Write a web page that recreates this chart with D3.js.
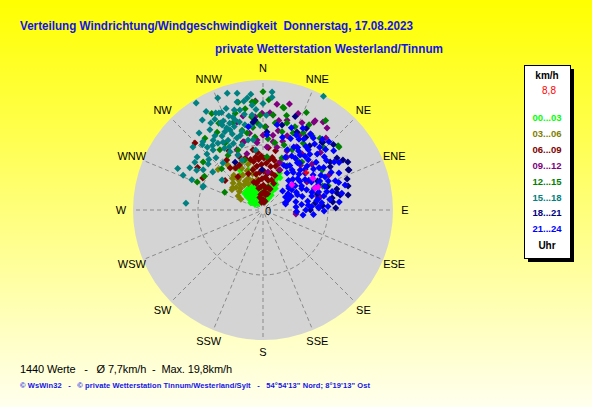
<body style="margin:0">
<script src="https://d3js.org/d3.v7.min.js"></script>
<script>
// Windrose scatter: each point = one minute value [direction deg, speed km/h]
var svgWidth = 592;
var svgHeight = 407;
var cx = 263, cy = 210, R = 130;

var dirLabels = ['N','NNE','NE','ENE','E','ESE','SE','SSE','S','SSW','SW','WSW','W','WNW','NW','NNW'];
var hourGroups = ['00...03','03...06','06...09','09...12','12...15','15...18','18...21','21...24'];
var groupColors = ['#00ff00','#808000','#800000','#800080','#008000','#008080','#000080','#0000ff'];
var speedMax = 20;

// 00-03
var g0 = [[20,1.5],[21,2.6],[22,3.6],[23,4.6],[24,5.4],[25,2],[26,3.2],[27,4.4],[28,5.6],[24,6.2],[29,2.6],[30,3.8],[18,4],[18,2],[305,1.5],[308,2.5],[310,3.2],[313,1.8],[315,2.8],[318,3.5],[320,1.2],[322,2.4],[325,3.2],[328,1.6],[330,2.6],[333,3.4],[336,2],[339,2.8],[342,1.4],[345,3],[348,2.2],[352,3.4],[356,2],[0,3],[5,2.4],[10,3.6],[14,2.8],[340,6.6],[330,7],[300,2.2],[312,3.8],[320,3.9],[327,4],[335,3.9],[343,3.6]];
// 03-06
var g1 = [[308,4.6],[310,5.4],[312,6.2],[314,4.8],[316,6.8],[318,5.4],[320,7],[321,6],[323,4.8],[325,6.4],[326,7.8],[328,5.2],[330,6.2],[331,4.6],[333,7.2],[335,5.4],[336,8],[338,6.5],[340,4.8],[342,7.4],[344,5.8],[346,7.8],[348,6.6],[350,4.8],[303,5.7],[299.5,4.4],[317,6.7],[325,6.2],[306,5.8],[322,8.8],[312,9.3],[296,3.8]];
// 06-09
var g2 = [[346,2],[346,4.2],[346,6.4],[346,8],[349,1.2],[349,3.4],[349,5.6],[349,7.6],[352,2.4],[352,4.6],[352,6.8],[352,8.2],[355,1.4],[355,3.6],[355,5.8],[355,7.8],[358,2.6],[358,4.8],[358,7],[358,8.3],[1,1.6],[1,3.8],[1,6],[1,8],[4,2.8],[4,5],[4,7.2],[7,1.2],[7,3.4],[7,5.6],[7,7.8],[10,2.4],[10,4.6],[10,6.8],[10,8.2],[13,1.4],[13,3.6],[13,5.8],[13,7.8],[16,2.6],[16,4.8],[16,7],[19,3.4],[19,5.6],[19,7.6],[22,4.4],[22,6.6],[308,7.4],[314.6,14.7],[322,8.2],[327,7.7],[323,6.4],[341,8.4],[324,9.5],[343.6,10.9],[332,7.8],[350.5,9.4],[354.6,8.9],[330,10.5],[5,9.6],[12,9.3],[338,6],[342,4.5],[336,9],[298,10.5],[303,12]];
// 09-12
var g3 = [[7.5,16.4],[4.1,15],[359.4,14.9],[15,14.3],[24.1,14.7],[30.1,15.6],[41.2,14.7],[10.8,12.4],[8.4,10.6],[3.6,9.7],[354.9,10.4],[335.6,9.3],[336.6,10.1],[23,6.7],[24.4,8.9],[96.9,5.1],[77.2,9],[34.3,16.4],[30.3,15.9],[85,9],[76.7,8.7],[93.5,5.1],[6,14.7],[7.6,11.6],[12.5,9.9],[19.5,7.8],[7.5,5.9],[57.5,8],[343.5,14.1],[344.4,10.9],[355.1,10.8],[355.1,14.4],[344,9],[18,12],[28,11],[35,10.5],[45,12.5],[50,6],[62,11.5],[2,12.8],[356,16.8],[14,16.8],[10,14],[20,15.8],[26,12.8],[38,16],[0,11.5],[350,12],[16,11],[32,13.8],[40,9],[47,10.3],[22,9.8],[348,14.8]];
// 12-15
var g4 = [[332,16.8],[333,15],[355.8,16.7],[11.6,16],[6,14.7],[1.4,12.8],[33.5,13.7],[49.5,15.2],[25.8,10.3],[68.2,9.9],[295,6.5],[308.7,11.8],[324.4,11.4],[11,16.1],[15.4,13.9],[27.5,13.4],[4.3,8.2],[34.2,9.3],[348.3,12.1],[341,14.2],[358.2,14.6],[13.7,12.4],[21,13.7],[28.4,14.9],[38.4,14.1],[50.3,15.2],[39,9.5],[55.9,11],[69.7,10.7],[21.3,12.7],[354.2,16.7],[329.5,13.9],[321,14.2],[330.4,11.8],[293,11],[327.5,10],[337.4,10],[344,15.5],[353,14.4],[353,12.8],[353.7,11.3],[345.3,12.7],[0,18.2],[3,17],[18,10.5],[10,10.5],[356,13.5],[350,15.8],[347,17],[8,13.5],[14,15],[24,16.4],[31,12],[44,13.4],[4,11],[20,8.5],[29,7.8],[340,8.2],[315,9],[300,10.4],[35,16.8]];
// 15-18
var g5 = [[328,19.4],[338,18.6],[343,18.8],[347.5,18.4],[354,17.9],[4.4,18.2],[4.6,17.4],[334,16.6],[337,16.3],[346.5,17.1],[347,15.8],[326,16.7],[326.5,14.8],[334,14.9],[339,14.3],[324.5,13.2],[326,12.4],[329.5,12.1],[317,13.7],[296,14.6],[293.5,13.4],[300,13],[301,11.9],[304,11.1],[293,11.9],[292,9.9],[275,11.9],[28,19.8],[337.6,13.3],[342.7,14.5],[343,12],[333.4,12],[348,13.4],[342,15],[334,13.4],[342,10.5],[348,11],[335.6,9.3],[354,16.2],[353.4,14.7],[352.6,13.2],[352,10.9],[353,9.3],[335.6,16.4],[334.3,14.5],[318.6,14],[320.3,15.4],[318.4,12.9],[308.8,13],[307.2,9.7],[306.2,7.8],[291,9.9],[320.2,12],[319.6,9.5],[330.4,10.3],[340.1,11.8],[337.2,8.3],[331,13],[336,11.2],[345,14],[340,16.6],[329,15.6],[313,11.4],[330,17.5],[332,15.8],[336,15],[340,15.4],[344,16],[349,15],[350,17],[345,12.5],[338,12.6],[332,11],[327,13.6],[322,12.6],[318,10.8],[315,12.2],[312,14.5],[310,11],[305,12.8],[341,13.6],[336,13.8],[328,11.2],[352,17.4],[356,15.5],[358,13],[0,16.4],[2,14.6]];
// 18-21
var g6 = [[54.9,13.9],[60.5,15],[65,14.6],[69.7,13.8],[74.2,11.8],[79,12.1],[80.1,10.8],[88.4,11.2],[80,13.3],[57.3,12.3],[41.4,13.9],[70.2,10.5],[12.6,13.4],[354.9,13.9],[2.9,12],[23.5,13.1],[41,13.8],[30.5,13],[73.5,8.7],[82.3,8.1],[64.8,14.5],[74.2,13.6],[77.1,11.7],[83.5,10.8],[58,14.5],[54.4,12.7],[353.5,13.6],[329.7,8.5],[358.6,6.2],[47,14.8],[36,12.2],[62,9.5],[86,9.2],[19,15.2],[28,14.2],[90,7.3]];
// 21-24
var g7 = [[19,13.4],[21,11.8],[22,10],[23,8.8],[24,12.6],[25,7.6],[26,14],[28,9.4],[29,11],[30,12.6],[31,8],[32,13.8],[33,6.8],[34,10.2],[36,9],[37,11.6],[38,12.9],[39,7.4],[40,14.2],[41,6],[42,10.4],[43,8.4],[44,12],[45,9.6],[46,13.4],[47,5.4],[48,7.2],[48,11],[49,8.6],[50,14.2],[51,10],[52,12.4],[53,6.2],[54,8],[55,9.4],[55,11.4],[56,13.2],[57,4.6],[58,7],[59,10.4],[60,8.6],[61,12],[62,5.8],[63,9.8],[64,13],[65,7.4],[66,11],[67,8.6],[68,4.2],[69,10.2],[70,12.4],[71,6.4],[72,9],[73,13.2],[74,7.8],[75,11],[76,5.2],[77,9.6],[78,12.4],[79,7],[80,8.4],[81,10.4],[82,6],[83,9.1],[84,11.8],[85,5.1],[86,7.5],[87,10],[88,8.6],[90,6.6],[91,9.4],[93,5.2],[95,7.8],[97,6.2],[35,13.5],[44,14.6],[58,13.8],[27,12.2],[31,10.6],[40,11.2],[46,9],[52,7.2],[62,10.8],[70,8],[36,7.6],[75,3.6],[72,3.6],[60,4],[66,5.8],[55,5.4],[44,6.6],[38,9.2],[9.4,13.3],[3,11.6],[350,13],[15,11.6],[32,9.4],[34,11.8],[38,10.5],[42,13],[45,7.8],[49,12.5],[53,10.8],[57,8.4],[61,6.8],[65,9.4],[68,12],[74,10.2],[79,8.6],[84,7],[87,8.5],[50,5.2],[46,4.2],[64,4.8],[28,7.6],[26,10.8]];
var lastValues = [[57.4,9.1],[67.3,9.2],[67,8.7],[49,5.9]];
var currentValue = [[49,8.8]];
var groups = [g0,g1,g2,g3,g4,g5,g6,g7];

var svg = d3.select('body').append('svg')
	.attr('width', svgWidth)
	.attr('height', svgHeight)
	.style('font-family', 'Liberation Sans, Arial, sans-serif');

var grad = svg.append('defs').append('linearGradient')
	.attr('id', 'bg').attr('x1', 0).attr('y1', 0).attr('x2', 0).attr('y2', 1);
grad.append('stop').attr('offset', '0%').attr('stop-color', '#ffff00');
grad.append('stop').attr('offset', '100%').attr('stop-color', '#ffffee');

svg.append('rect').attr('width', svgWidth).attr('height', svgHeight).attr('fill', 'url(#bg)');

var rScale = d3.scaleLinear().domain([0, speedMax]).range([0, R]);
var aScale = d3.scaleLinear().domain([0, 360]).range([0, 2 * Math.PI]);
function px(d) { return cx + rScale(d[1]) * Math.sin(aScale(d[0])); }
function py(d) { return cy - rScale(d[1]) * Math.cos(aScale(d[0])); }

// disk
svg.append('circle').attr('cx', cx).attr('cy', cy).attr('r', R).attr('fill', '#d4d4d4');
svg.append('circle').attr('cx', cx).attr('cy', cy).attr('r', rScale(speedMax / 2))
	.attr('fill', 'none').attr('stroke', '#8a8a8a').attr('stroke-dasharray', '4,3');

svg.selectAll('line.spoke')
	.data(dirLabels)
	.enter().append('line')
	.attr('class', 'spoke')
	.attr('x1', function(d, i) { return cx + 4 * Math.sin(aScale(i * 22.5)); })
	.attr('y1', function(d, i) { return cy - 4 * Math.cos(aScale(i * 22.5)); })
	.attr('x2', function(d, i) { return cx + (R - 2) * Math.sin(aScale(i * 22.5)); })
	.attr('y2', function(d, i) { return cy - (R - 2) * Math.cos(aScale(i * 22.5)); })
	.attr('stroke', '#8a8a8a')
	.attr('stroke-dasharray', '4,3');

svg.selectAll('text.dir')
	.data(dirLabels)
	.enter().append('text')
	.attr('class', 'dir')
	.attr('x', function(d, i) { return cx + 142 * Math.sin(aScale(i * 22.5)); })
	.attr('y', function(d, i) { return cy - 142 * Math.cos(aScale(i * 22.5)) + 4; })
	.attr('text-anchor', 'middle')
	.attr('font-size', 11)
	.text(function(d) { return d; });

svg.append('text').attr('x', 265).attr('y', 215).attr('font-size', 11).text('0');

// points
var marker = 'M0,-3.5L3.5,0L0,3.5L-3.5,0Z';
groups.forEach(function(g, k) {
	svg.append('g').selectAll('path')
		.data(g)
		.enter().append('path')
		.attr('d', marker)
		.attr('transform', function(d) { return 'translate(' + px(d) + ',' + py(d) + ')'; })
		.attr('fill', groupColors[k]);
});
svg.append('g').selectAll('path')
	.data(lastValues)
	.enter().append('path')
	.attr('d', marker)
	.attr('transform', function(d) { return 'translate(' + px(d) + ',' + py(d) + ')'; })
	.attr('fill', '#ff00ff');
svg.append('g').selectAll('path')
	.data(currentValue)
	.enter().append('path')
	.attr('d', 'M-1,-3h2v2h2v2h-2v2h-2v-2h-2v-2h2z')
	.attr('transform', function(d) { return 'translate(' + px(d) + ',' + py(d) + ')'; })
	.attr('fill', '#ff0000');

// titles
svg.append('text').attr('x', 20).attr('y', 30)
	.attr('font-size', 12.5).attr('font-weight', 'bold').attr('fill', '#1414e6')
	.attr('xml:space', 'preserve').attr('textLength', 393).attr('lengthAdjust', 'spacingAndGlyphs')
	.text('Verteilung Windrichtung/Windgeschwindigkeit  Donnerstag, 17.08.2023');
svg.append('text').attr('x', 215).attr('y', 53)
	.attr('font-size', 12.5).attr('font-weight', 'bold').attr('fill', '#1414e6')
	.attr('textLength', 228).attr('lengthAdjust', 'spacingAndGlyphs')
	.text('private Wetterstation Westerland/Tinnum');

// legend
svg.append('rect').attr('x', 528).attr('y', 69).attr('width', 46).attr('height', 193).attr('fill', '#000');
svg.append('rect').attr('x', 524.5).attr('y', 65.5).attr('width', 46).attr('height', 193)
	.attr('fill', '#fff').attr('stroke', '#000');
svg.append('text').attr('x', 547).attr('y', 79).attr('text-anchor', 'middle')
	.attr('font-size', 10).attr('font-weight', 'bold').text('km/h');
svg.append('text').attr('x', 549).attr('y', 94).attr('text-anchor', 'middle')
	.attr('font-size', 10).attr('fill', '#ff0000').text('8,8');
svg.selectAll('text.leg')
	.data(hourGroups)
	.enter().append('text')
	.attr('class', 'leg')
	.attr('x', 547)
	.attr('y', function(d, i) { return 121 + i * 15.9; })
	.attr('text-anchor', 'middle')
	.attr('font-size', 9.5)
	.attr('font-weight', 'bold')
	.attr('fill', function(d, i) { return groupColors[i]; })
	.text(function(d) { return d; });
svg.append('text').attr('x', 547).attr('y', 249).attr('text-anchor', 'middle')
	.attr('font-size', 10).attr('font-weight', 'bold').text('Uhr');

// footer
svg.append('text').attr('x', 20).attr('y', 373).attr('font-size', 11)
	.attr('xml:space', 'preserve').attr('textLength', 212)
	.text('1440 Werte   -   \u00d8 7,7km/h  -  Max. 19,8km/h');
svg.append('text').attr('x', 20).attr('y', 388).attr('font-size', 7.5).attr('font-weight', 'bold')
	.attr('fill', '#1414e6').attr('xml:space', 'preserve').attr('textLength', 350)
	.text('\u00a9 WsWin32   -   \u00a9 private Wetterstation Tinnum/Westerland/Sylt   -   54\u00b054\'13" Nord; 8\u00b019\'13" Ost');
</script>
</body>
